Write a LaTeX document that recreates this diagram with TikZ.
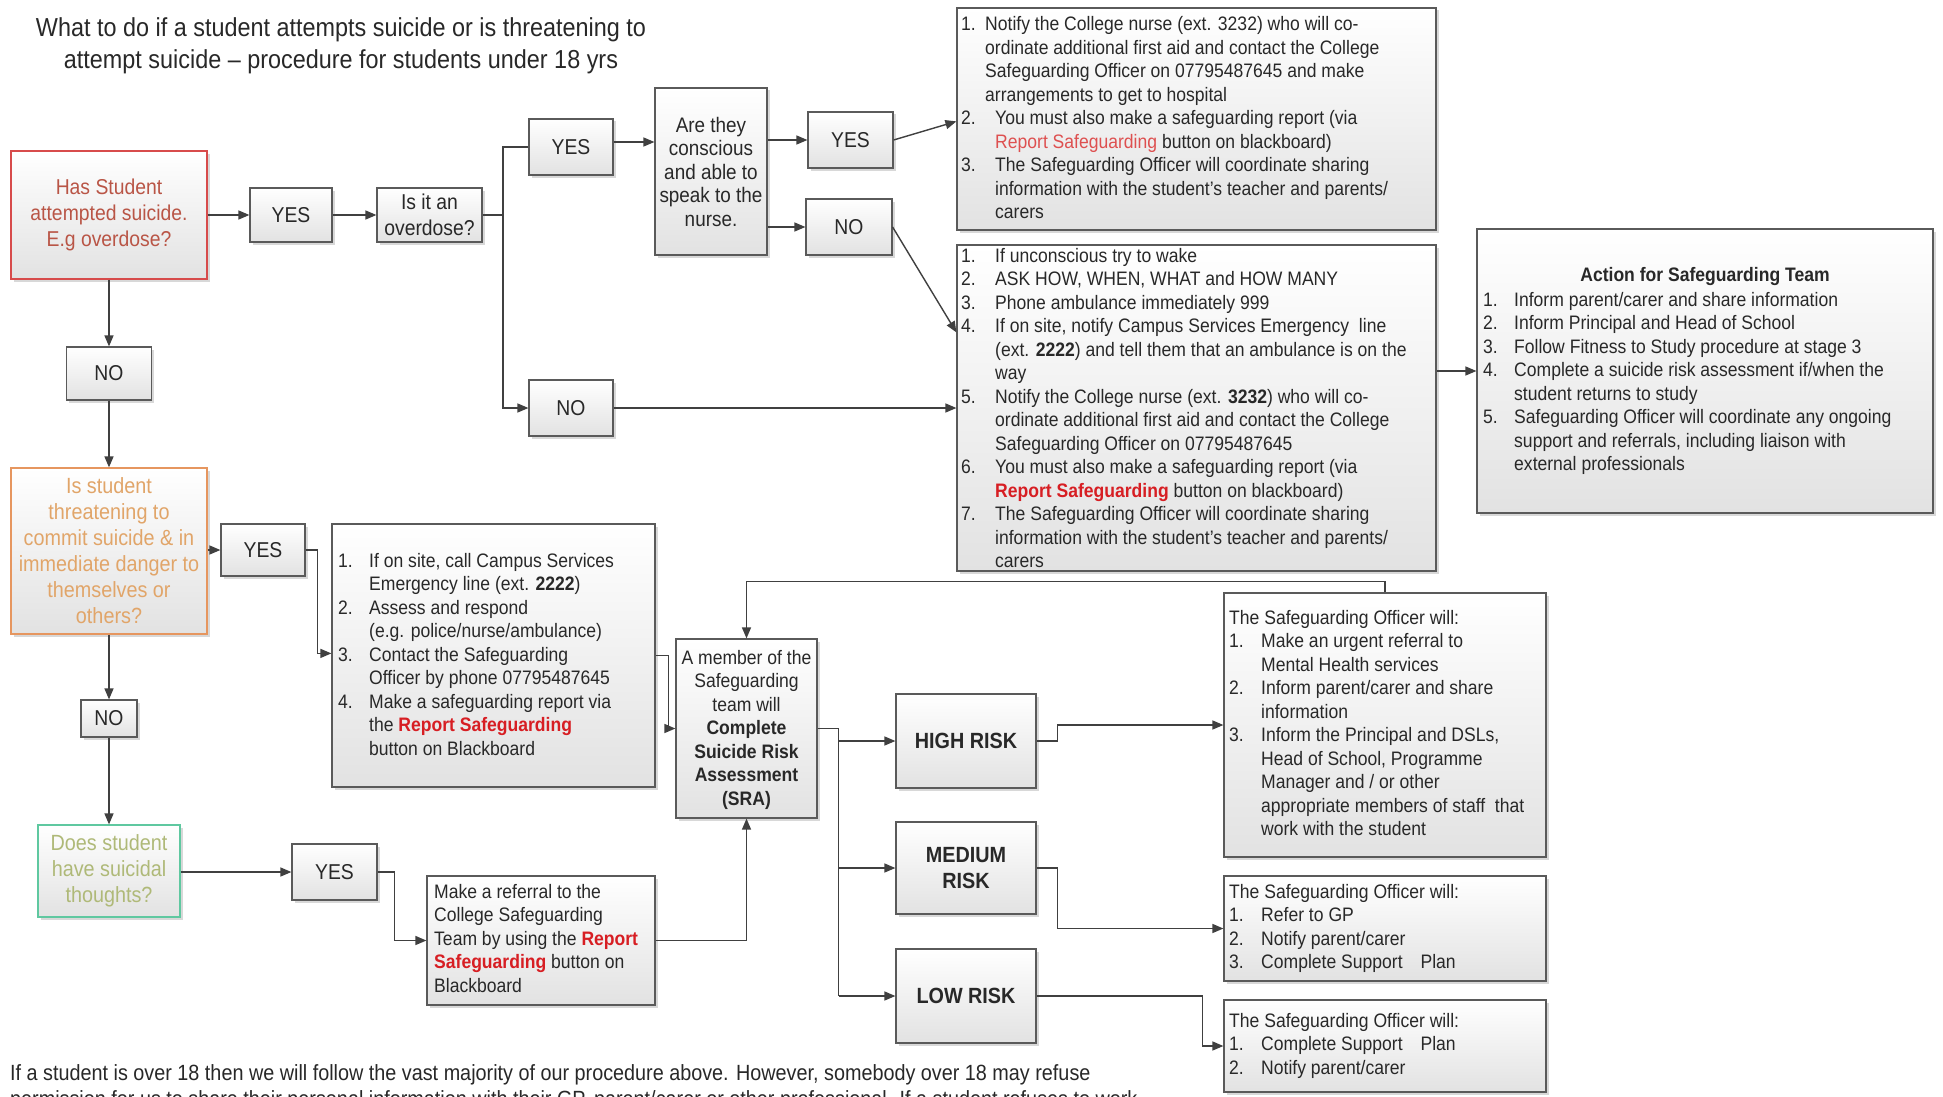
\documentclass[tikz,border=0pt]{standalone}
\usepackage{fontspec}
\setmainfont{Liberation Sans}[FakeStretch=0.9]
\usetikzlibrary{arrows.meta,shadows,calc}
\definecolor{ln}{RGB}{64,64,64}
\definecolor{bx}{RGB}{90,90,90}
\definecolor{txt}{RGB}{40,40,40}
\definecolor{rs}{RGB}{215,30,35}
\definecolor{rsl}{RGB}{222,80,80}
\definecolor{redb}{RGB}{215,75,75}
\definecolor{redt}{RGB}{185,85,70}
\definecolor{orgb}{RGB}{230,150,95}
\definecolor{orgt}{RGB}{225,165,105}
\definecolor{grnb}{RGB}{95,200,160}
\definecolor{grnt}{RGB}{175,185,120}
\definecolor{fillb}{RGB}{226,226,226}
\newcommand\RS[1]{\textcolor{rs}{\bfseries #1}}
\newcommand\lst[1]{\begin{tabular}[t]{@{}l@{}}#1\end{tabular}}
\newcommand\clst[1]{\begin{tabular}[t]{@{}c@{}}#1\end{tabular}}
\newcommand\numb[2]{\makebox[#1][l]{#2}}
\newcommand\bodyf{\fontsize{19.5}{23.5}\selectfont}
\newcommand\boxf{\fontsize{21.5}{26}\selectfont}
\begin{document}
\begin{tikzpicture}[x=1pt,y=-1pt,
  box/.style={draw=bx, line width=1.2pt, top color=white, bottom color=fillb,
    drop shadow={shadow xshift=2.5pt,shadow yshift=-2.5pt,opacity=0.3},
    inner sep=0pt, text=txt, align=center, font=\boxf},
  lstf/.style={font=\bodyf, text=txt, inner sep=0pt, anchor=base west},
  conn/.style={draw=ln, line width=1.4pt},
  arr/.style={conn, -{Triangle[length=11pt,width=9pt]}}]
\useasboundingbox (0,0) rectangle (1943,1097);
\fill[white] (0,0) rectangle (1943,1097);
\clip (0,0) rectangle (1943,1097);

% title
\node[font=\fontsize{26}{32}\selectfont, text=txt, align=center] (title) at (341,46)
  {What to do if a student attempts suicide or is threatening to\\attempt suicide -- procedure for students under 18 yrs};

% boxes
\node[box, minimum width=196pt, minimum height=128pt, draw=redb, text=redt] (red) at (109,215)
  {Has Student\\attempted suicide.\\E.g overdose?};
\node[box, minimum width=82pt, minimum height=54pt] (yes1) at (291,215) {YES};
\node[box, minimum width=105pt, minimum height=54pt] (ovd) at (429.5,215) {Is it an\\overdose?};
\node[box, minimum width=84pt, minimum height=56pt] (yes2) at (571,147) {YES};
\node[box, minimum width=112pt, minimum height=167pt, font=\fontsize{21}{23.5}\selectfont] (cons) at (711,171.5)
  {Are they\\conscious\\and able to\\speak to the\\nurse.};
\node[box, minimum width=85pt, minimum height=56pt] (yes3) at (850.5,140) {YES};
\node[box, minimum width=86pt, minimum height=56pt] (no3) at (849,227) {NO};
\node[box, minimum width=84pt, minimum height=56pt] (no2) at (571,408) {NO};
\node[box, minimum width=479pt, minimum height=222pt] (top) at (1196.5,119) {};
\node[box, minimum width=479pt, minimum height=326pt] (big) at (1196.5,408) {};
\node[box, minimum width=456pt, minimum height=284pt] (act) at (1705,371) {};
\node[box, minimum width=85pt, minimum height=53pt] (no1) at (109,373.5) {NO};
\node[box, minimum width=196pt, minimum height=166pt, draw=orgb, text=orgt, font=\fontsize{22}{26}\selectfont] (org) at (109,551)
  {Is student\\threatening to\\commit suicide \& in\\immediate danger to\\themselves or\\others?};
\node[box, minimum width=84pt, minimum height=52pt] (yes4) at (263,550) {YES};
\node[box, minimum width=323pt, minimum height=263pt] (list) at (493.5,655.5) {};
\node[box, minimum width=56pt, minimum height=37pt] (no4) at (109,718.5) {NO};
\node[box, minimum width=142pt, minimum height=92pt, draw=grnb, text=grnt, font=\fontsize{22}{26}\selectfont] (grn) at (109,871)
  {Does student\\have suicidal\\thoughts?};
\node[box, minimum width=85pt, minimum height=56pt] (yes5) at (334.5,872) {YES};
\node[box, minimum width=228pt, minimum height=129pt] (ref) at (541,940.5) {};
\node[box, minimum width=141pt, minimum height=179pt] (sra) at (746.5,728.5) {};
\node[box, minimum width=140pt, minimum height=94pt, font=\bfseries\fontsize{22}{26}\selectfont] (high) at (966,741) {HIGH RISK};
\node[box, minimum width=140pt, minimum height=92pt, font=\bfseries\fontsize{22}{26}\selectfont] (med) at (966,868) {MEDIUM\\RISK};
\node[box, minimum width=140pt, minimum height=94pt, font=\bfseries\fontsize{22}{26}\selectfont] (low) at (966,996) {LOW RISK};
\node[box, minimum width=322pt, minimum height=264pt] (hbox) at (1385,725) {};
\node[box, minimum width=322pt, minimum height=105pt] (mbox) at (1385,928.5) {};
\node[box, minimum width=322pt, minimum height=92pt] (lbox) at (1385,1046) {};

% box texts
\node[lstf] (topT) at (961,31) {\lst{%
\numb{24pt}{1.}Notify the College nurse (ext. 3232) who will co-\\
\hspace*{24pt}ordinate additional first aid and contact the College\\
\hspace*{24pt}Safeguarding Officer on 07795487645 and make\\
\hspace*{24pt}arrangements to get to hospital\\
\numb{34pt}{2.}You must also make a safeguarding report (via\\
\hspace*{34pt}\textcolor{rsl}{Report Safeguarding} button on blackboard)\\
\numb{34pt}{3.}The Safeguarding Officer will coordinate sharing\\
\hspace*{34pt}information with the student's teacher and parents/\\
\hspace*{34pt}carers}};

\node[lstf] (bigT) at (961,262) {\lst{%
\numb{34pt}{1.}If unconscious try to wake\\
\numb{34pt}{2.}ASK HOW, WHEN, WHAT and HOW MANY\\
\numb{34pt}{3.}Phone ambulance immediately 999\\
\numb{34pt}{4.}If on site, notify Campus Services Emergency\ \ line\\
\hspace*{34pt}(ext. \textbf{2222}) and tell them that an ambulance is on the\\
\hspace*{34pt}way\\
\numb{34pt}{5.}Notify the College nurse (ext. \textbf{3232}) who will co-\\
\hspace*{34pt}ordinate additional first aid and contact the College\\
\hspace*{34pt}Safeguarding Officer on 07795487645\\
\numb{34pt}{6.}You must also make a safeguarding report (via\\
\hspace*{34pt}\RS{Report Safeguarding} button on blackboard)\\
\numb{34pt}{7.}The Safeguarding Officer will coordinate sharing\\
\hspace*{34pt}information with the student's teacher and parents/\\
\hspace*{34pt}carers}};

\node[lstf, anchor=base, font=\bfseries\bodyf] (actH) at (1705,281) {Action for Safeguarding Team};
\node[lstf] (actT) at (1483,306) {\lst{%
\numb{31pt}{1.}Inform parent/carer and share information\\
\numb{31pt}{2.}Inform Principal and Head of School\\
\numb{31pt}{3.}Follow Fitness to Study procedure at stage 3\\
\numb{31pt}{4.}Complete a suicide risk assessment if/when the\\
\hspace*{31pt}student returns to study\\
\numb{31pt}{5.}Safeguarding Officer will coordinate any ongoing\\
\hspace*{31pt}support and referrals, including liaison with\\
\hspace*{31pt}external professionals}};

\node[lstf] (listT) at (338,567) {\lst{%
\numb{31pt}{1.}If on site, call Campus Services\\
\hspace*{31pt}Emergency line (ext. \textbf{2222})\\
\numb{31pt}{2.}Assess and respond\\
\hspace*{31pt}(e.g. police/nurse/ambulance)\\
\numb{31pt}{3.}Contact the Safeguarding\\
\hspace*{31pt}Officer by phone 07795487645\\
\numb{31pt}{4.}Make a safeguarding report via\\
\hspace*{31pt}the \RS{Report Safeguarding}\\
\hspace*{31pt}button on Blackboard}};

\node[lstf] (refT) at (434,898) {\lst{%
Make a referral to the\\
College Safeguarding\\
Team by using the \RS{Report}\\
\RS{Safeguarding} button on\\
Blackboard}};

\node[lstf, anchor=base] (sraT) at (746.5,664) {\clst{%
A member of the\\Safeguarding\\team will\\\textbf{Complete}\\\textbf{Suicide Risk}\\\textbf{Assessment}\\\textbf{(SRA)}}};

\node[lstf] (hboxT) at (1229,624) {\lst{%
The Safeguarding Officer will:\\
\numb{32pt}{1.}Make an urgent referral to\\
\hspace*{32pt}Mental Health services\\
\numb{32pt}{2.}Inform parent/carer and share\\
\hspace*{32pt}information\\
\numb{32pt}{3.}Inform the Principal and DSLs,\\
\hspace*{32pt}Head of School, Programme\\
\hspace*{32pt}Manager and / or other\\
\hspace*{32pt}appropriate members of staff\ \ that\\
\hspace*{32pt}work with the student}};

\node[lstf] (mboxT) at (1229,898) {\lst{%
The Safeguarding Officer will:\\
\numb{32pt}{1.}Refer to GP\\
\numb{32pt}{2.}Notify parent/carer\\
\numb{32pt}{3.}Complete Support\hspace{18pt}Plan}};

\node[lstf] (lboxT) at (1229,1027) {\lst{%
The Safeguarding Officer will:\\
\numb{32pt}{1.}Complete Support\hspace{18pt}Plan\\
\numb{32pt}{2.}Notify parent/carer}};

\node[lstf, font=\fontsize{22}{26}\selectfont] (foot) at (10,1080) {\lst{%
If a student is over 18 then we will follow the vast majority of our procedure above. However, somebody over 18 may refuse\\
permission for us to share their personal information with their GP, parent/carer or other professional. If a student refuses to work}};

% connectors
\coordinate (sp) at (503,215);
\draw[arr] (red) -- (yes1);
\draw[arr] (yes1) -- (ovd);
\draw[conn] (ovd.east) -- (sp);
\draw[conn] (yes2.west) -| (sp);
\draw[arr] (sp) |- (no2.west);
\draw[arr] ($(yes2.east)+(0,-5)$) -- ($(yes2.east -| cons.west)+(0,-5)$);
\draw[arr] (cons.east |- yes3) -- (yes3.west);
\draw[arr] (cons.east |- no3) -- (no3.west);
\draw[arr] (yes3.east) -- ($(top.north west)+(0,114)$);
\draw[arr] (no3.east) -- ($(big.north west)+(0,88)$);
\draw[arr] (no2.east) -- (no2.east -| big.west);
\draw[arr] (act.west -| big.east) -- (act.west);
\draw[arr] (red) -- (no1);
\draw[arr] (no1) -- (org);
\draw[arr] (org.east |- yes4) -- (yes4.west);
\draw[arr] (yes4.east) -- ++(12,0) |- ($(list.north west)+(0,130)$);
\draw[arr] (org) -- (no4);
\draw[arr] (no4) -- (grn);
\draw[arr] (grn.east |- yes5) -- (yes5.west);
\draw[arr] (yes5.east) -- ++(17,0) |- (ref.west);
\draw[arr] (ref.east) -| (sra.south);
\draw[arr] (list.east) -- ++(13,0) |- (sra.west);
\draw[arr] (hbox.north) -- ++(0,-11) -| (sra.north);
\coordinate (br) at ($(sra.east)+(21,0)$);
\draw[conn] (sra.east) -- (br) -- (br |- low.west);
\draw[arr] (br |- high.west) -- (high.west);
\draw[arr] (br |- med.west) -- (med.west);
\draw[arr] (br |- low.west) -- (low.west);
\draw[arr] (high.east) -- ++(21,0) |- (hbox.west);
\draw[arr] (med.east) -- ++(21,0) |- (mbox.west);
\draw[arr] (low.east) -- ++(166,0) |- (lbox.west);
\end{tikzpicture}
\end{document}
